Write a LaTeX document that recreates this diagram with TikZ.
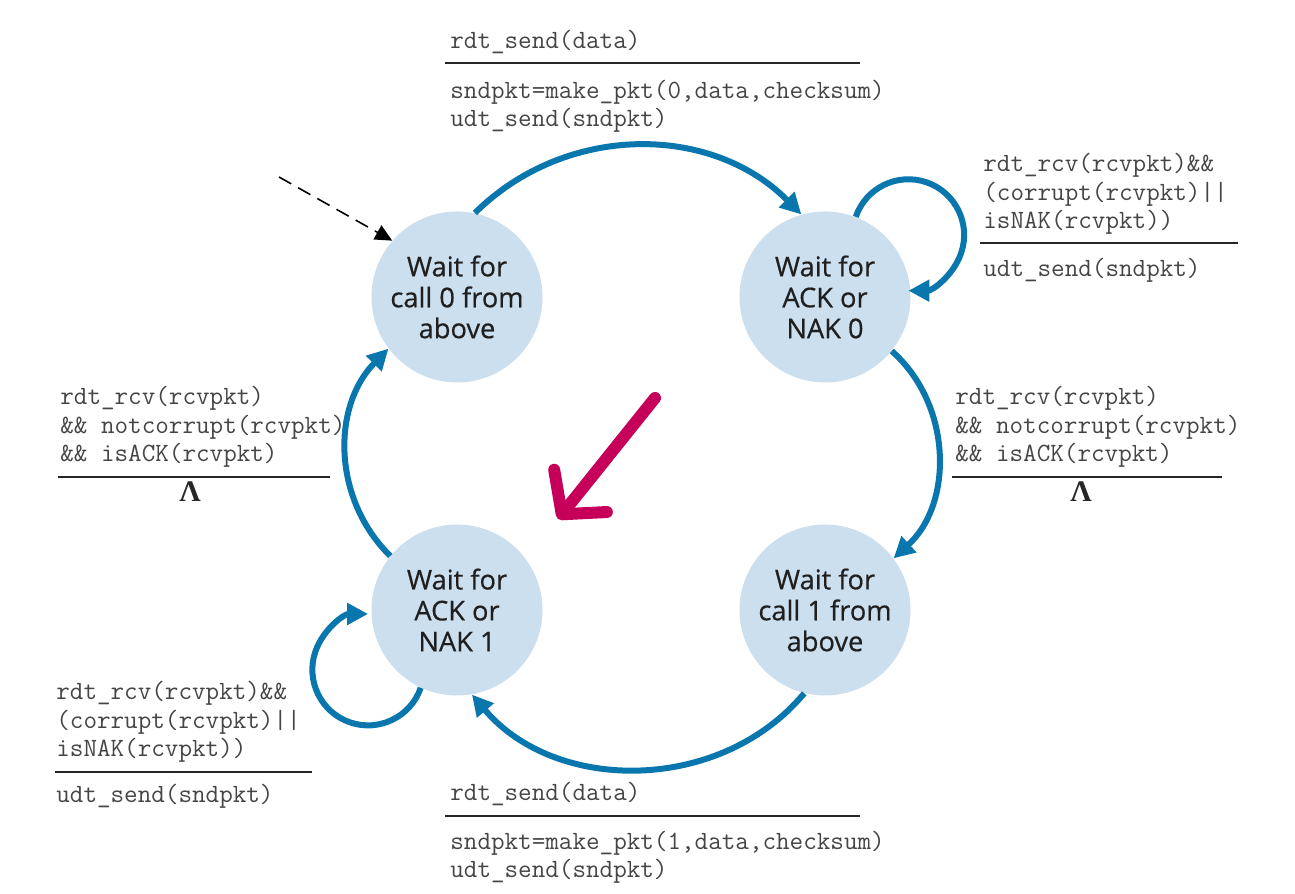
\documentclass[tikz,border=0pt]{standalone}
\usepackage{fontspec}
\usepackage{amsmath}
\usepackage{tikz}
\usetikzlibrary{arrows.meta, positioning, calc}
\newfontfamily\statefont{Open Sans}[FakeBold=0.5]
\newfontfamily\lamfont{Liberation Serif}
\definecolor{statefill}{HTML}{CCDFEE}
\definecolor{flowblue}{HTML}{0A76AE}
\definecolor{codegray}{HTML}{454545}
\definecolor{hilite}{HTML}{C6005A}

\begin{document}
\begin{tikzpicture}[
            state/.style={circle, fill=statefill, minimum size=3.42cm, inner sep=0pt, align=center,
                          font=\statefont\fontsize{15.5}{17.6}\selectfont, text=black!88},
            flow/.style={->, draw=flowblue, line width=0.12cm},
            code/.style={anchor=base west, inner sep=0pt, align=left, text=codegray,
                         font=\ttfamily\fontsize{15}{16.4}\selectfont},
            guard/.style={draw=black!85, line width=1.1pt},
            lam/.style={anchor=base, inner sep=0pt, text=black!85, font=\lamfont\bfseries\fontsize{17}{18}\selectfont},
            >={Triangle[length=0.42cm, width=0.42cm]}
        ]
        \useasboundingbox (0,0) rectangle (25.9,17.88);

        % States
        \node[state] (call0) at (9.14,11.94) {Wait for\\call 0 from\\above};
        \node[state] (ack0) at (16.50,11.94) {Wait for\\ACK or\\NAK 0};
        \node[state] (call1) at (16.50,5.68) {Wait for\\call 1 from\\above};
        \node[state] (ack1) at (9.14,5.68) {Wait for\\ACK or\\NAK 1};

        % Initial state
        \coordinate (init) at (5.58,14.34);
        \draw[black, line width=0.9pt, dash pattern=on 0.28cm off 0.16cm, -{Triangle[length=0.34cm, width=0.32cm]}] (init) -- (call0.139);

        % Transitions
        \draw[flow] (call0.78) to[bend left=45] (ack0.106);
        \draw[flow] (ack0.-39) to[bend left=48] (call1.37);
        \draw[flow] (call1.-104) to[bend left=50] (ack1.-80);
        \draw[flow] (ack1.141) to[bend left=45] (call0.217);
        \draw[flow] (ack0.69) arc[start angle=161, end angle=-90, radius=1.114cm];
        \draw[flow] (ack1.-115) arc[start angle=-19, end angle=-270, radius=1.114cm];

        % Labels: top (anchor is the baseline of the last line)
        \node[code] (snd0 ev) at (9.00,16.90) {rdt\_send(data)};
        \draw[guard] (8.90,16.62) -- (17.20,16.62);
        \node[code] (snd0 act) at (9.00,15.34) {sndpkt=make\_pkt(0,data,checksum)\\udt\_send(sndpkt)};

        % Labels: resend 0
        \node[code] (nak0 ev) at (19.66,13.30) {rdt\_rcv(rcvpkt)\&\&\\(corrupt(rcvpkt)||\\isNAK(rcvpkt))};
        \draw[guard] (19.60,13.02) -- (24.76,13.02);
        \node[code] (nak0 act) at (19.66,12.34) {udt\_send(sndpkt)};

        % Labels: ack 0
        \node[code] (ok0 ev) at (19.10,8.64) {rdt\_rcv(rcvpkt)\\\&\& notcorrupt(rcvpkt)\\\&\& isACK(rcvpkt)};
        \draw[guard] (19.04,8.34) -- (24.44,8.34);
        \node[lam] (ok0 act) at (21.62,7.84) {Λ};

        % Labels: ack 1
        \node[code] (ok1 ev) at (1.20,8.64) {rdt\_rcv(rcvpkt)\\\&\& notcorrupt(rcvpkt)\\\&\& isACK(rcvpkt)};
        \draw[guard] (1.16,8.34) -- (6.60,8.34);
        \node[lam] (ok1 act) at (3.80,7.84) {Λ};

        % Labels: resend 1
        \node[code] (nak1 ev) at (1.12,2.74) {rdt\_rcv(rcvpkt)\&\&\\(corrupt(rcvpkt)||\\isNAK(rcvpkt))};
        \draw[guard] (1.10,2.44) -- (6.24,2.44);
        \node[code] (nak1 act) at (1.12,1.82) {udt\_send(sndpkt)};

        % Labels: bottom
        \node[code] (snd1 ev) at (9.00,1.86) {rdt\_send(data)};
        \draw[guard] (8.90,1.56) -- (17.20,1.56);
        \node[code] (snd1 act) at (9.00,0.32) {sndpkt=make\_pkt(1,data,checksum)\\udt\_send(sndpkt)};

        % Pointer
        \coordinate (hl start) at (13.10,9.92);
        \coordinate (hl end) at (11.16,7.50);
        \draw[hilite, line width=0.24cm, line cap=round, -{Straight Barb[length=0.6cm, width=1.35cm, round]}] (hl start) -- (hl end);
        \end{tikzpicture}
\end{document}
